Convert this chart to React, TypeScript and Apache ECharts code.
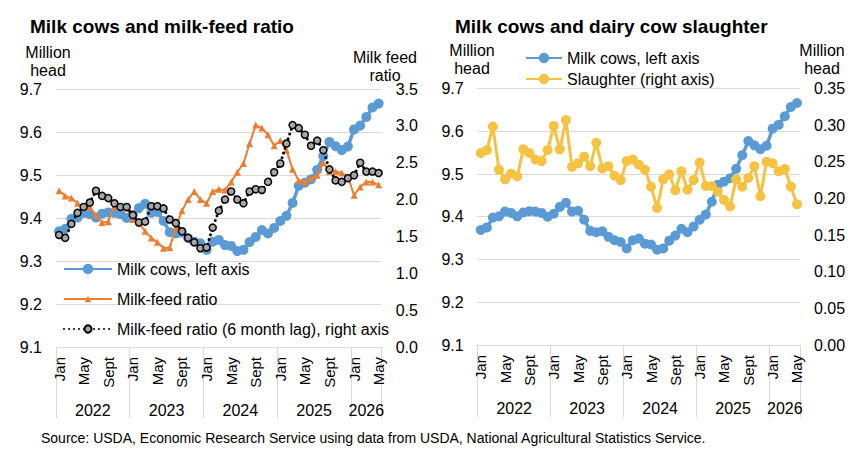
import React, { useEffect, useRef } from "react";
import * as echarts from "echarts";

// ---------- data ----------
const years = ["2022", "2023", "2024", "2025", "2026"];
const monthNames = ["Jan", "Feb", "Mar", "Apr", "May", "Jun", "Jul", "Aug", "Sept", "Oct", "Nov", "Dec"];
const shownMonths = ["Jan", "May", "Sept"];
const monthsPerYear = [12, 12, 12, 12, 5];

const categories: string[] = [];
years.forEach((y, yi) => {
  for (let m = 0; m < monthsPerYear[yi]; m++) categories.push(monthNames[m] + " " + y);
});

// million head
const milkCows = [
  9.369, 9.375, 9.398, 9.401, 9.412, 9.409, 9.401, 9.41, 9.413, 9.412, 9.409, 9.4,
  9.407, 9.423, 9.433, 9.412, 9.414, 9.393, 9.367, 9.364, 9.366, 9.353, 9.345, 9.341,
  9.326, 9.345, 9.349, 9.337, 9.335, 9.323, 9.326, 9.344, 9.356, 9.372, 9.364, 9.377,
  9.393, 9.405, 9.435, 9.475, 9.482, 9.49, 9.512, 9.544, 9.577, 9.567, 9.558, 9.566,
  9.606, 9.615, 9.635, 9.657, 9.666,
];

// milk-feed ratio
const milkFeedRatio = [
  2.12, 2.05, 2.02, 1.95, 1.9, 1.9, 1.79, 1.69, 1.7, 1.91, 1.91, 1.88,
  1.73, 1.68, 1.57, 1.48, 1.42, 1.34, 1.35, 1.62, 1.85, 2.0, 2.11, 2.0,
  1.95, 2.11, 2.14, 2.13, 2.24, 2.37, 2.49, 2.76, 3.01, 2.97, 2.88, 2.73,
  2.8, 2.67, 2.41, 2.26, 2.24, 2.29, 2.33, 2.5, 2.38, 2.38, 2.36, 2.31,
  2.06, 2.17, 2.24, 2.24, 2.2,
];

// ratio for Jul-Dec 2021 (first six points of the lagged line)
const ratioLeadIn = [1.52, 1.48, 1.67, 1.82, 1.9, 1.96];
const lagMonths = 6;
const milkFeedLag = [...ratioLeadIn, ...milkFeedRatio.slice(0, milkFeedRatio.length - lagMonths)];

// million head
const slaughter = [
  0.262, 0.266, 0.298, 0.239, 0.226, 0.234, 0.23, 0.267, 0.262, 0.253, 0.251, 0.266,
  0.299, 0.267, 0.307, 0.243, 0.248, 0.257, 0.244, 0.276, 0.241, 0.244, 0.231, 0.225,
  0.251, 0.253, 0.246, 0.239, 0.216, 0.187, 0.226, 0.233, 0.211, 0.237, 0.212, 0.225,
  0.249, 0.217, 0.217, 0.209, 0.198, 0.189, 0.226, 0.216, 0.228, 0.244, 0.203, 0.25,
  0.248, 0.237, 0.24, 0.216, 0.192,
];

const leftTitle = "Milk cows and milk-feed ratio";
const rightTitle = "Milk cows and dairy cow slaughter";
const sourceText =
  "Source: USDA, Economic Research Service using data from USDA, National Agricultural Statistics Service.";
const nameCows = "Milk cows, left axis";
const nameRatio = "Milk-feed ratio";
const nameLag = "Milk-feed ratio (6 month lag), right axis";
const nameSlaughter = "Slaughter (right axis)";

// ---------- styling ----------
const FONT = '"Liberation Sans", Arial, Helvetica, sans-serif';
const BLUE = "#5b9bd5";
const ORANGE = "#ed7d31";
const GOLD = "#f5c242";
const GRID = "#d9d9d9";
const TEXT = "#000000";

const yearBounds: number[] = [0];
monthsPerYear.forEach((n) => yearBounds.push(yearBounds[yearBounds.length - 1] + n));
const yearCenters = years.map((_, i) => (yearBounds[i] + yearBounds[i + 1]) / 2);

function xAxesFor(gridIndex: number, tickLen: number) {
  return [
    {
      type: "category",
      gridIndex,
      data: categories,
      boundaryGap: true,
      axisLine: { show: true, lineStyle: { color: GRID, width: 1 } },
      axisTick: { show: false },
      splitLine: { show: false },
      axisLabel: {
        interval: 0,
        rotate: 90,
        margin: 10,
        fontSize: 15,
        color: TEXT,
        fontFamily: FONT,
        formatter: (v: string) => {
          const m = v.split(" ")[0];
          return shownMonths.includes(m) ? m : "";
        },
      },
    },
    {
      type: "value",
      gridIndex,
      position: "bottom",
      min: 0,
      max: categories.length,
      axisLine: { show: false },
      splitLine: { show: false },
      axisTick: {
        show: true,
        customValues: yearBounds,
        length: tickLen,
        lineStyle: { color: GRID, width: 1 },
      },
      axisLabel: {
        show: true,
        customValues: yearCenters,
        margin: 55,
        fontSize: 16,
        color: TEXT,
        fontFamily: FONT,
        formatter: (v: number) => {
          const idx = yearCenters.findIndex((c) => Math.abs(c - v) < 0.01);
          return idx >= 0 ? years[idx] : "";
        },
      },
    },
  ];
}

function yAxis(gridIndex: number, min: number, max: number, interval: number, digits: number, right: boolean) {
  return {
    type: "value",
    gridIndex,
    position: right ? "right" : "left",
    min,
    max,
    interval,
    axisLine: { show: false },
    axisTick: { show: false },
    splitLine: { show: !right, lineStyle: { color: GRID, width: 1 } },
    axisLabel: {
      margin: 14,
      fontSize: 16,
      color: TEXT,
      fontFamily: FONT,
      formatter: (v: number) => v.toFixed(digits),
    },
  };
}

function txt(text: string, x: number, y: number, opts: any = {}) {
  return {
    type: "text",
    x,
    y,
    silent: true,
    style: {
      text,
      fill: TEXT,
      font: opts.font || `16px ${FONT}`,
      align: opts.align || "center",
      verticalAlign: "middle",
    },
  };
}

const legendText = { fontSize: 16, color: TEXT, fontFamily: FONT };

function buildOption() {
  return {
    animation: false,
    backgroundColor: "#ffffff",
    textStyle: { fontFamily: FONT },
    grid: [
      { left: 56, top: 89, width: 325.7, height: 258, containLabel: false },
      { left: 477.7, top: 88.5, width: 322.3, height: 256.5, containLabel: false },
    ],
    xAxis: [...xAxesFor(0, 71), ...xAxesFor(1, 72)],
    yAxis: [
      yAxis(0, 9.1, 9.7, 0.1, 1, false),
      yAxis(0, 0, 3.5, 0.5, 1, true),
      yAxis(1, 9.1, 9.7, 0.1, 1, false),
      yAxis(1, 0, 0.35, 0.05, 2, true),
    ],
    legend: [
      {
        data: [nameCows],
        orient: "vertical",
        left: 58,
        top: 256,
        itemWidth: 48,
        itemHeight: 13,
        selectedMode: false,
        textStyle: legendText,
      },
      {
        data: [nameRatio],
        orient: "vertical",
        left: 58,
        top: 286,
        itemWidth: 48,
        itemHeight: 8,
        selectedMode: false,
        textStyle: legendText,
      },
      {
        data: [nameLag],
        orient: "vertical",
        left: 58,
        top: 316,
        itemWidth: 48,
        itemHeight: 9,
        selectedMode: false,
        textStyle: legendText,
      },
      {
        data: [nameCows, nameSlaughter],
        orient: "vertical",
        left: 520,
        top: 45,
        itemWidth: 36,
        itemHeight: 13,
        itemGap: 5,
        selectedMode: false,
        textStyle: legendText,
      },
    ],
    series: [
      {
        name: nameCows,
        type: "line",
        xAxisIndex: 0,
        yAxisIndex: 0,
        data: milkCows,
        symbol: "circle",
        symbolSize: 10,
        showAllSymbol: true,
        lineStyle: { color: BLUE, width: 3.5 },
        itemStyle: { color: BLUE },
        z: 2,
      },
      {
        name: nameRatio,
        type: "line",
        xAxisIndex: 0,
        yAxisIndex: 1,
        data: milkFeedRatio,
        symbol: "triangle",
        symbolSize: 7,
        showAllSymbol: true,
        lineStyle: { color: ORANGE, width: 2 },
        itemStyle: { color: ORANGE },
        z: 3,
      },
      {
        name: nameLag,
        type: "line",
        xAxisIndex: 0,
        yAxisIndex: 1,
        data: milkFeedLag,
        symbol: "circle",
        symbolSize: 7,
        showAllSymbol: true,
        lineStyle: { color: "#000000", width: 3, type: [0, 5], cap: "round" },
        itemStyle: { color: "#a6a6a6", borderColor: "#000000", borderWidth: 1.5 },
        z: 4,
      },
      {
        name: nameCows,
        type: "line",
        xAxisIndex: 2,
        yAxisIndex: 2,
        data: milkCows,
        symbol: "circle",
        symbolSize: 10,
        showAllSymbol: true,
        lineStyle: { color: BLUE, width: 3.5 },
        itemStyle: { color: BLUE },
        z: 2,
      },
      {
        name: nameSlaughter,
        type: "line",
        xAxisIndex: 2,
        yAxisIndex: 3,
        data: slaughter,
        symbol: "circle",
        symbolSize: 10,
        showAllSymbol: true,
        lineStyle: { color: GOLD, width: 3 },
        itemStyle: { color: GOLD },
        z: 3,
      },
    ],
    graphic: [
      txt(leftTitle, 30, 26.5, { font: `bold 19px ${FONT}`, align: "left" }),
      txt(rightTitle, 455, 26.5, { font: `bold 19px ${FONT}`, align: "left" }),
      txt("Million", 48, 52),
      txt("head", 48, 70),
      txt("Milk feed", 385, 57),
      txt("ratio", 385, 75),
      txt("Million", 472, 50),
      txt("head", 472, 68),
      txt("Million", 822, 50),
      txt("head", 822, 68),
      txt(sourceText, 41, 438, { font: `14px ${FONT}`, align: "left" }),
    ],
  };
}

export default function App() {
  const ref = useRef<HTMLDivElement>(null);
  useEffect(() => {
    if (!ref.current) return;
    const chart = echarts.init(ref.current, undefined, { renderer: "svg" });
    chart.setOption(buildOption() as any);
    return () => chart.dispose();
  }, []);
  return (
    <div
      ref={ref}
      style={{ position: "absolute", left: 0, top: 0, width: 864, height: 465, background: "#fff" }}
    />
  );
}
